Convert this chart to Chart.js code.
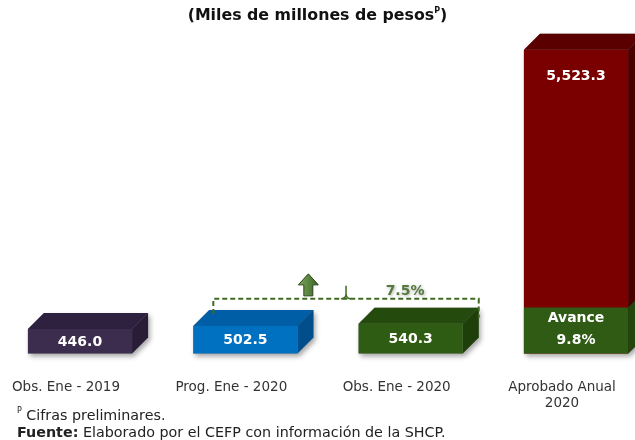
<!DOCTYPE html>
<html>
<head>
<meta charset="utf-8">
<script src="https://cdn.jsdelivr.net/npm/chart.js@4.4.1/dist/chart.umd.min.js"></script>
<style>
  body { margin: 0; background: #fff; }
  #wrap { position: relative; width: 635px; height: 440px; overflow: hidden; font-family: "DejaVu Sans", sans-serif; }
  #chart { position: absolute; left: 0; top: 0; }
  #titulo { position: absolute; top: 5px; left: 0; width: 635px; text-align: center; font-weight: bold; font-size: 15.8px; color: #111; }
  #titulo sup, .nota sup { font-size: 8px; vertical-align: 7px; line-height: 0; }
  .nota { position: absolute; left: 17px; font-size: 14.3px; color: #222; white-space: nowrap; }
</style>
</head>
<body>
<div id="wrap">
  <canvas id="chart" width="635" height="440"></canvas>
  <div id="titulo">(Miles de millones de pesos<sup>P</sup>)</div>
  <div class="nota" style="top:407px"><sup>P</sup> Cifras preliminares.</div>
  <div class="nota" style="top:424px"><b>Fuente:</b> Elaborado por el CEFP con información de la SHCP.</div>
</div>
<script>
// Datos
const categorias = [['Obs. Ene - 2019'], ['Prog. Ene - 2020'], ['Obs. Ene - 2020'], ['Aprobado Anual', '2020']];
const valores = [446.0, 502.5, 540.3, 5523.3];
const etiquetas = ['446.0', '502.5', '540.3', '5,523.3'];
// altura del bloque verde "Avance" tal como se ve en la barra anual
const avance = [null, null, null, 840];
const avanceTexto = ['Avance', '9.8%'];
const variacion = '7.5%';

// Colores: frente, tapa, lado
const colFrente = ['#3c2c4e', '#0070c0', '#2f5c13', '#7a0000'];
const colTapa = ['#2e2140', '#005ea6', '#244a0d', '#5a0000'];
const colLado = ['#281c37', '#004e8c', '#1e3f0a', '#4a0000'];
const avanceFrente = '#2f5b14';
const avanceLado = '#22460c';

const PROF = 16;

function caja(ctx, el, tapa, lado, conTapa) {
    const L = el.x - el.width / 2, R = el.x + el.width / 2;
    const T = el.y, B = el.base;
    if (conTapa) {
        ctx.fillStyle = tapa;
        ctx.beginPath();
        ctx.moveTo(L, T); ctx.lineTo(R, T); ctx.lineTo(R + PROF, T - PROF); ctx.lineTo(L + PROF, T - PROF);
        ctx.closePath(); ctx.fill();
    }
    ctx.fillStyle = lado;
    ctx.beginPath();
    ctx.moveTo(R, T); ctx.lineTo(R + PROF, T - PROF); ctx.lineTo(R + PROF, B - PROF); ctx.lineTo(R, B);
    ctx.closePath(); ctx.fill();
}

const barras3d = {
    id: 'barras3d',
    beforeDatasetsDraw(chart) {
        const ctx = chart.ctx;
        const meta = chart.getDatasetMeta(0);
        // sombra suave
        ctx.save();
        ctx.shadowColor = 'rgba(0,0,0,0.35)';
        ctx.shadowBlur = 5;
        ctx.shadowOffsetX = 2;
        ctx.shadowOffsetY = 3;
        ctx.fillStyle = '#888';
        meta.data.forEach(el => {
            const L = el.x - el.width / 2, R = el.x + el.width / 2;
            ctx.beginPath();
            ctx.moveTo(L, el.base); ctx.lineTo(L, el.y); ctx.lineTo(L + PROF, el.y - PROF);
            ctx.lineTo(R + PROF, el.y - PROF); ctx.lineTo(R + PROF, el.base - PROF); ctx.lineTo(R, el.base);
            ctx.closePath(); ctx.fill();
        });
        ctx.restore();
        ctx.save();
        meta.data.forEach((el, i) => caja(ctx, el, colTapa[i], colLado[i], true));
        ctx.restore();
    },
    afterDatasetsDraw(chart) {
        const ctx = chart.ctx;
        const meta = chart.getDatasetMeta(0);
        const metaAv = chart.getDatasetMeta(1);
        ctx.save();
        // lado verde del avance
        metaAv.data.forEach((el, i) => {
            if (avance[i] == null) return;
            caja(ctx, el, avanceFrente, avanceLado, false);
        });
        ctx.fillStyle = '#fff';
        ctx.textAlign = 'center';
        ctx.textBaseline = 'middle';
        ctx.font = 'bold 14px "DejaVu Sans"';
        meta.data.forEach((el, i) => {
            const y = i === 3 ? el.y + 27 : (el.y + el.base) / 2 + 1;
            ctx.fillText(etiquetas[i], el.x, y);
        });
        metaAv.data.forEach((el, i) => {
            if (avance[i] == null) return;
            ctx.fillText(avanceTexto[0], el.x, el.y + 11);
            ctx.fillText(avanceTexto[1], el.x, el.y + 33);
        });

        // llave de variación entre Prog. y Obs. Ene 2020
        const b2 = meta.data[1], b3 = meta.data[2];
        const xIzq = b2.x - 32;
        const xDer = b3.x + b3.width / 2 + PROF;
        const yLin = b3.y - PROF - 9;
        ctx.strokeStyle = '#3f6a22';
        ctx.lineWidth = 2;
        ctx.setLineDash([5, 3]);
        ctx.beginPath();
        ctx.moveTo(xIzq, b2.y - 12); ctx.lineTo(xIzq, yLin); ctx.lineTo(xDer, yLin); ctx.lineTo(xDer, b3.y - 6);
        ctx.stroke();
        ctx.setLineDash([]);
        // marca de llave al centro
        const xm = (xIzq + xDer) / 2;
        ctx.lineWidth = 1.5;
        ctx.beginPath();
        ctx.moveTo(xm - 5, yLin);
        ctx.quadraticCurveTo(xm, yLin, xm, yLin - 5);
        ctx.lineTo(xm, yLin - 13);
        ctx.moveTo(xm + 5, yLin);
        ctx.quadraticCurveTo(xm, yLin, xm, yLin - 5);
        ctx.stroke();

        // flecha hacia arriba
        const xa = xIzq + 95, ya = yLin - 3;
        const grad = ctx.createLinearGradient(xa - 10, 0, xa + 10, 0);
        grad.addColorStop(0, '#7aa85a');
        grad.addColorStop(1, '#3c6326');
        ctx.fillStyle = grad;
        ctx.strokeStyle = '#2b4519';
        ctx.lineWidth = 1;
        ctx.beginPath();
        ctx.moveTo(xa, ya - 22);
        ctx.lineTo(xa + 10, ya - 11);
        ctx.lineTo(xa + 4.5, ya - 11);
        ctx.lineTo(xa + 4.5, ya);
        ctx.lineTo(xa - 4.5, ya);
        ctx.lineTo(xa - 4.5, ya - 11);
        ctx.lineTo(xa - 10, ya - 11);
        ctx.closePath();
        ctx.fill(); ctx.stroke();

        // porcentaje
        ctx.font = 'bold 14px "DejaVu Sans"';
        ctx.shadowColor = 'rgba(0,0,0,0.3)';
        ctx.shadowBlur = 3;
        ctx.shadowOffsetX = 1;
        ctx.shadowOffsetY = 1;
        ctx.fillStyle = '#557a3c';
        ctx.fillText(variacion, xm + 59, yLin - 8);
        ctx.restore();
    }
};

new Chart(document.getElementById('chart'), {
    type: 'bar',
    data: {
        labels: categorias,
        datasets: [
            {
                data: valores,
                backgroundColor: colFrente,
                clip: false,
                order: 1
            },
            {
                data: avance,
                backgroundColor: avanceFrente,
                clip: false,
                order: 0
            }
        ]
    },
    options: {
        responsive: false,
        animation: false,
        grouped: false,
        categoryPercentage: 1,
        barPercentage: 0.63,
        layout: { padding: { top: 40, left: 80, right: 59, bottom: 10 } },
        plugins: {
            legend: { display: false },
            tooltip: { enabled: false }
        },
        scales: {
            x: {
                offset: false,
                grid: { display: false, offset: false },
                border: { display: false },
                afterFit: scale => { scale.paddingLeft = 0; scale.paddingRight = 0; },
                ticks: {
                    autoSkip: false,
                    maxRotation: 0,
                    padding: 18,
                    labelOffset: -14,
                    color: '#333',
                    font: { family: 'DejaVu Sans', size: 13.5, lineHeight: 1.2 }
                }
            },
            y: {
                display: false,
                min: 0,
                max: 5700
            }
        }
    },
    plugins: [barras3d]
});
</script>
</body>
</html>
